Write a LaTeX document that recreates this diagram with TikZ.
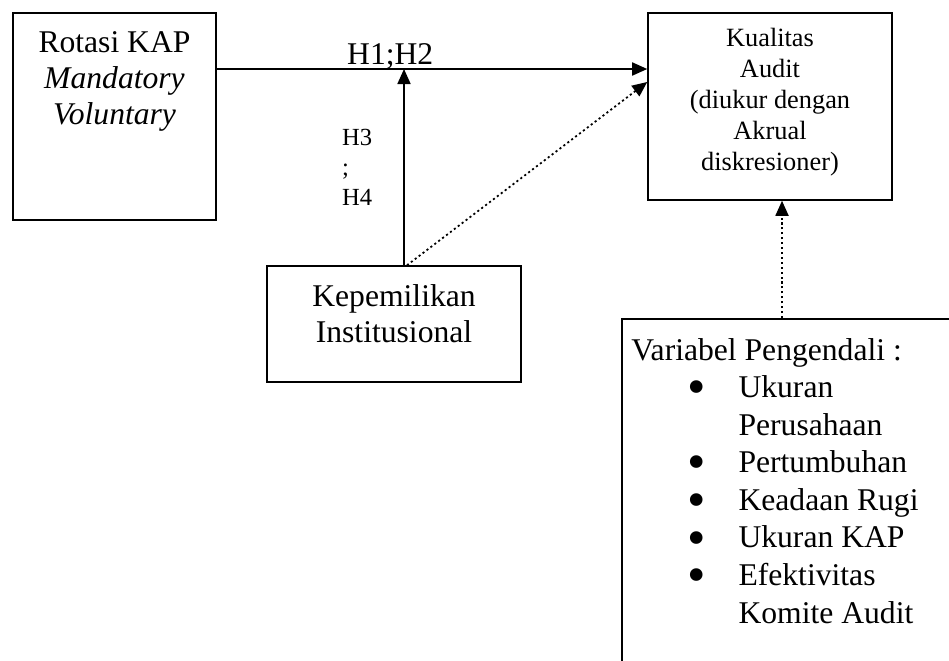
\documentclass[tikz,border=0pt]{standalone}
\usepackage{fontspec}
\setmainfont{Liberation Serif}
\usetikzlibrary{arrows.meta}

\newcommand{\butir}{\hspace*{32pt}\smash{\raisebox{-4pt}{\fontsize{30}{30}\selectfont\textbullet}}}

\tikzset{
  kotak/.style={draw, line width=0.9pt, inner sep=0pt},
  teks/.style={font=\fontsize{18}{20.4}\selectfont, align=center, inner sep=0pt},
  tekskecil/.style={font=\fontsize{15}{17.6}\selectfont, align=center, inner sep=0pt},
  hipo/.style={font=\fontsize{14}{17}\selectfont, align=left, inner sep=0pt},
  panah/.style={line width=1pt, -{Triangle[length=0.3cm,width=0.26cm]}},
  panahtitik/.style={panah, dash pattern=on 1.2pt off 1.6pt},
}

\begin{document}
\begin{tikzpicture}[x=0.02cm, y=-0.02cm]
    \path[use as bounding box] (0,0) rectangle (949,660);
    \clip (0,0) rectangle (949,660);
    % Boxes (text sits on the baseline of its last line).
    \node[kotak, minimum width=4.06cm, minimum height=4.14cm] (rotasi) at (114.5,116.5) {};
    \node[teks, anchor=base] (rotasitxt) at ([yshift=-2.24cm]rotasi.north)
      {Rotasi KAP\\\textit{Mandatory}\\\textit{Voluntary}};
    \node[kotak, minimum width=4.88cm, minimum height=3.74cm] (kualitas) at (770,106.5) {};
    \node[tekskecil, anchor=base] (kualitastxt) at ([yshift=-3.16cm]kualitas.north)
      {Kualitas\\Audit\\(diukur dengan\\Akrual\\diskresioner)};
    \node[kotak, minimum width=5.08cm, minimum height=2.32cm] (kepemilikan) at (394,324) {};
    \node[teks, anchor=base] (kepemilikantxt) at ([yshift=-1.54cm]kepemilikan.north)
      {Kepemilikan\\Institusional};
    \node[kotak, anchor=north west, minimum width=7.6cm, minimum height=7.6cm] (kontrol) at (621,318) {};
    \node[anchor=base west, inner sep=0pt, font=\fontsize{18}{21.4}\selectfont] (kontroltxt)
      at ([xshift=0.2cm, yshift=-0.84cm]kontrol.north west)
      {\begin{tabular}[t]{@{}p{61pt}@{}l@{}}
        \multicolumn{2}{@{}l@{}}{Variabel Pengendali :}\\
        \butir & Ukuran\\
         & Perusahaan\\
        \butir & Pertumbuhan\\
        \butir & Keadaan Rugi\\
        \butir & Ukuran KAP\\
        \butir & Efektivitas\\
         & Komite Audit
      \end{tabular}};
    % Junctions.
    \coordinate (temu) at (404,69);
    \coordinate (masuk) at (kualitas.west |- temu);
    \coordinate (ujung) at ([yshift=-0.26cm]masuk);
    \coordinate (bawah) at ([xshift=0.24cm]kualitas.south);
    % Arrows.
    \draw[panah] (rotasi.east |- temu) -- node[teks, pos=0.403, anchor=base, yshift=0.1cm] (h12) {H1;H2} (masuk);
    \draw[panah] (kepemilikan.north -| temu) -- node[hipo, midway, left=0.62cm] (h34) {H3\\;\\H4} (temu);
    \draw[panahtitik] ([xshift=0.06cm]kepemilikan.north -| temu) -- (ujung);
    \draw[panahtitik] (kontrol.north -| bawah) -- (bawah);
\end{tikzpicture}
\end{document}
